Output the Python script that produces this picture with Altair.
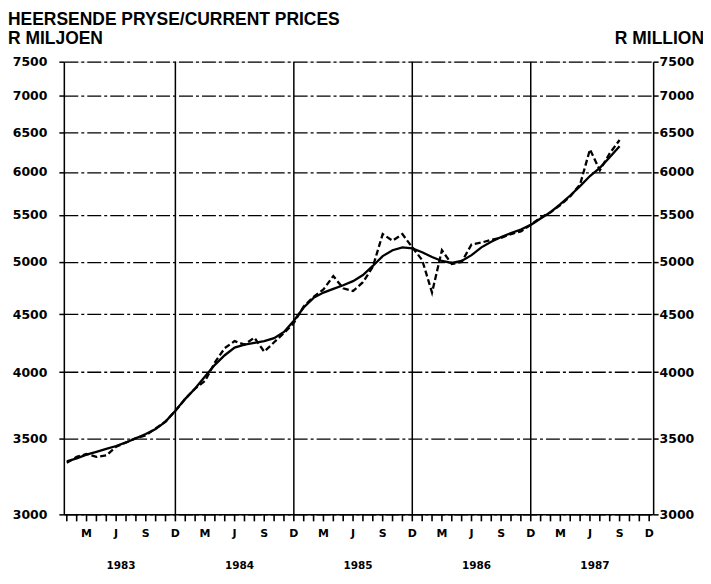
import altair as alt
import pandas as pd

# ---- data (month index 0 = Jan 1983) ----
months = list(range(57))  # Jan 1983 .. Sep 1987
trend = [3340, 3360, 3385, 3405, 3425, 3445, 3470, 3500, 3530, 3565,
         3620, 3700, 3790, 3870, 3965, 4060, 4140, 4205, 4230, 4245,
         4260, 4285, 4340, 4440, 4560, 4650, 4700, 4735, 4770, 4810,
         4870, 4960, 5060, 5120, 5150, 5140, 5100, 5050, 5010, 4990,
         5010, 5070, 5150, 5210, 5260, 5300, 5340, 5390, 5460, 5530,
         5620, 5720, 5830, 5950, 6050, 6180, 6320]
actual = [3330, 3370, 3390, 3370, 3380, 3440, 3470, 3500, 3520, 3570,
          3620, 3700, 3790, 3870, 3930, 4080, 4200, 4260, 4230, 4290,
          4170, 4250, 4330, 4420, 4570, 4660, 4730, 4860, 4740, 4714,
          4800, 4950, 5290, 5220, 5290, 5150, 5020, 4700, 5120, 4980,
          5000, 5180, 5200, 5230, 5250, 5290, 5320, 5390, 5470, 5530,
          5610, 5710, 5850, 6280, 6020, 6230, 6400]
dec_grid = [11, 23, 35, 47]
year_labels = ["1983", "1984", "1985", "1986", "1987"]
year_pos = [5.5, 17.5, 29.5, 41.5, 53.5]
y_ticks = [3000, 3500, 4000, 4500, 5000, 5500, 6000, 6500, 7000, 7500]
month_ticks = list(range(60))
letter_pos = [2, 5, 8, 11, 14, 17, 20, 23, 26, 29, 32, 35, 38, 41, 44, 47,
              50, 53, 56, 59]
letters = ["M", "J", "S", "D"] * 5

W, H = 591, 454
NUM_FONT = "DejaVu Sans"
TITLE_FONT = "Liberation Sans"

df = pd.DataFrame({"m": months, "trend": trend, "actual": actual})

xscale = alt.Scale(domain=[-0.3, 59.4], nice=False, zero=False)
yscale = alt.Scale(type="log", domain=[3000, 7500], nice=False)

x_axis = alt.Axis(ticks=False, labels=False, domainColor="black",
                  domainWidth=1.5, grid=False, title=None)

left_axis = alt.Axis(values=y_ticks, orient="left", format="d", grid=True,
                     gridDash=[14, 3, 3, 3], gridColor="black", gridWidth=1.3,
                     gridOpacity=1, tickSize=5, tickColor="black", tickWidth=1.5,
                     domainColor="black", domainWidth=1.5, labelFont=NUM_FONT,
                     labelFontWeight="bold", labelFontSize=12.5, labelColor="black",
                     labelPadding=12, title=None)
right_axis = alt.Axis(values=y_ticks, orient="right", format="d", grid=False,
                      tickSize=5, tickColor="black", tickWidth=1.5,
                      domainColor="black", domainWidth=1.5, labelFont=NUM_FONT,
                      labelFontWeight="bold", labelFontSize=12.5, labelColor="black",
                      labelPadding=1, title=None)

base = alt.Chart(df)

trend_line = base.mark_line(color="black", strokeWidth=2.3).encode(
    x=alt.X("m:Q", scale=xscale, axis=x_axis),
    y=alt.Y("trend:Q", scale=yscale, axis=left_axis),
)
actual_line = base.mark_line(color="black", strokeWidth=2.3,
                             strokeDash=[6, 3]).encode(
    x=alt.X("m:Q", scale=xscale, axis=x_axis),
    y=alt.Y("actual:Q", scale=yscale, axis=right_axis),
)

vgrid = alt.Chart(pd.DataFrame({"m": dec_grid})).mark_rule(
    color="black", strokeWidth=1.5).encode(x=alt.X("m:Q", scale=xscale, axis=x_axis))

mticks = alt.Chart(pd.DataFrame({"m": month_ticks})).mark_rule(
    color="black", strokeWidth=1.6).encode(
    x=alt.X("m:Q", scale=xscale, axis=x_axis),
    y=alt.value(H), y2=alt.value(H + 7))

mletters = alt.Chart(pd.DataFrame({"m": letter_pos, "l": letters})).mark_text(
    font=NUM_FONT, fontWeight="bold", fontSize=11, color="black",
    baseline="middle").encode(
    x=alt.X("m:Q", scale=xscale, axis=x_axis), y=alt.value(H + 20), text="l:N")

years = alt.Chart(pd.DataFrame({"m": year_pos, "yr": year_labels})).mark_text(
    font=NUM_FONT, fontWeight="bold", fontSize=10.5, color="black",
    baseline="middle").encode(
    x=alt.X("m:Q", scale=xscale, axis=x_axis), y=alt.value(H + 52), text="yr:N")

t1 = alt.Chart(pd.DataFrame({"t": ["HEERSENDE PRYSE/CURRENT PRICES"]})).mark_text(
    font=TITLE_FONT, fontWeight="bold", fontSize=17.5, color="black",
    align="left", baseline="middle").encode(
    x=alt.value(-56), y=alt.value(-42), text="t:N")
t2 = alt.Chart(pd.DataFrame({"t": ["R MILJOEN"]})).mark_text(
    font=TITLE_FONT, fontWeight="bold", fontSize=17.5, color="black",
    align="left", baseline="middle").encode(
    x=alt.value(-56), y=alt.value(-23), text="t:N")
t3 = alt.Chart(pd.DataFrame({"t": ["R MILLION"]})).mark_text(
    font=TITLE_FONT, fontWeight="bold", fontSize=17.5, color="black",
    align="right", baseline="middle").encode(
    x=alt.value(642), y=alt.value(-23), text="t:N")

chart = alt.layer(vgrid, mticks, trend_line, actual_line, mletters, years,
                  t1, t2, t3).resolve_scale(
    y="independent"
).properties(
    width=W, height=H,
    autosize=alt.AutoSizeParams(type="none"),
    padding={"left": 56, "top": 53, "right": 50, "bottom": 60},
).configure_view(stroke="black", strokeWidth=1.5).configure(background="white")

chart.save("out.html", embed_options={"renderer": "svg", "actions": False})
